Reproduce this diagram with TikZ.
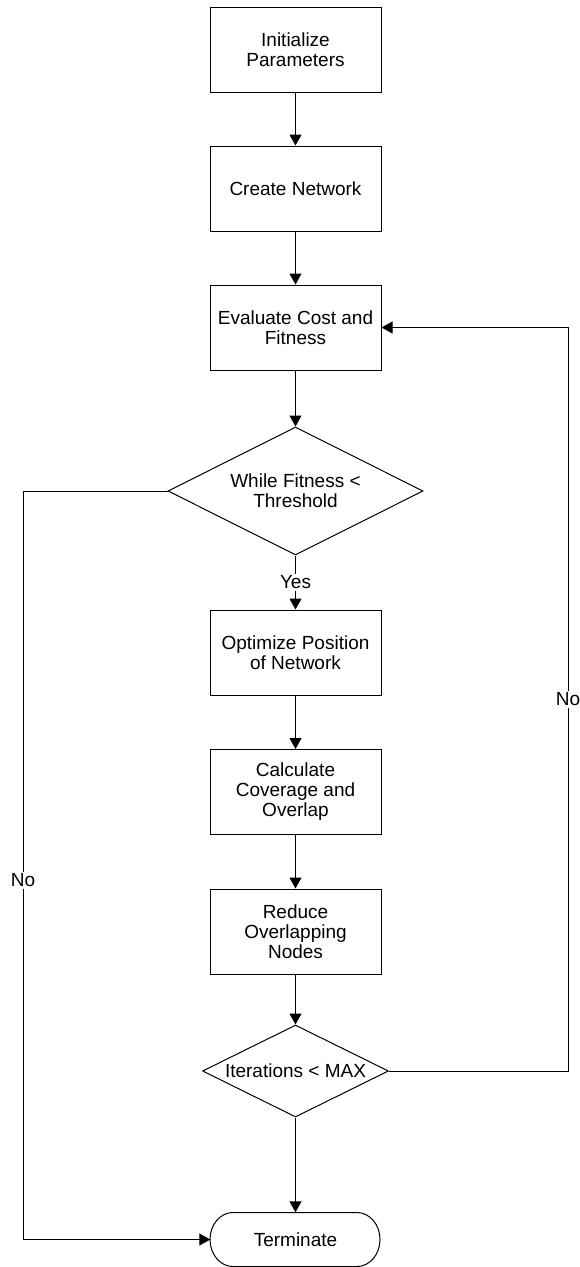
\documentclass[tikz,border=0pt]{standalone}
\usepackage{fontspec}
\setmainfont{Liberation Sans}
\usetikzlibrary{arrows.meta,shapes.geometric}
\begin{document}
\begin{tikzpicture}[x=1pt,y=-1pt,
  every node/.style={font=\fontsize{19}{20}\selectfont},
  procbox/.style={draw,line width=1pt,minimum width=171pt,minimum height=85pt,align=center,inner sep=2pt},
  decide/.style={draw,line width=1pt,diamond,inner sep=0pt,align=center},
  conn/.style={line width=1pt,-{Triangle[width=12pt,length=11pt]}},
  lbl/.style={fill=white,inner sep=2pt}]
\useasboundingbox (0,0) rectangle (579,1267);
\node[procbox] (init) at (295.5,49.5) {Initialize\\Parameters};
\node[procbox] (create) at (295.5,188.5) {Create Network};
\node[procbox] (eval) at (295.5,327.5) {Evaluate Cost and\\Fitness};
\node[decide,minimum width=255pt,minimum height=128pt,aspect=2] (while) at (295.5,491) {While Fitness <\\Threshold};
\node[procbox] (opt) at (295.5,652.5) {Optimize Position\\of Network};
\node[procbox] (calc) at (295.5,792) {Calculate\\Coverage and\\Overlap};
\node[procbox] (reduce) at (295.5,931.5) {Reduce\\Overlapping\\Nodes};
\node[decide,minimum width=186pt,minimum height=92pt,aspect=2] (iter) at (295.5,1071) {Iterations < MAX};
\node[minimum width=170pt,minimum height=54pt,inner sep=0pt] (term) at (295.5,1239.5) {Terminate};
\draw[line width=1pt] (233,1212.5) -- (357,1212.5) arc[start angle=-90,end angle=90,x radius=23,y radius=27] -- (233,1266.5) arc[start angle=90,end angle=270,x radius=23,y radius=27] -- cycle;
\coordinate (lt) at (23,491);
\coordinate (lb) at (23,1239.5);
\coordinate (rb) at (568,1071);
\coordinate (rt) at (568,327.5);
\draw[conn] (init) -- (create);
\draw[conn] (create) -- (eval);
\draw[conn] (eval) -- (while);
\draw[conn] (while) -- node[lbl] {Yes} (opt);
\draw[conn] (opt) -- (calc);
\draw[conn] (calc) -- (reduce);
\draw[conn] (reduce) -- (iter);
\draw[conn] (iter) -- (term);
\draw[conn] (while.west) -- (lt) -- node[lbl,pos=0.52] {No} (lb) -- (term.west);
\draw[conn] (iter.east) -- (rb) -- node[lbl,pos=0.5] {No} (rt) -- (eval.east);
\end{tikzpicture}
\end{document}
